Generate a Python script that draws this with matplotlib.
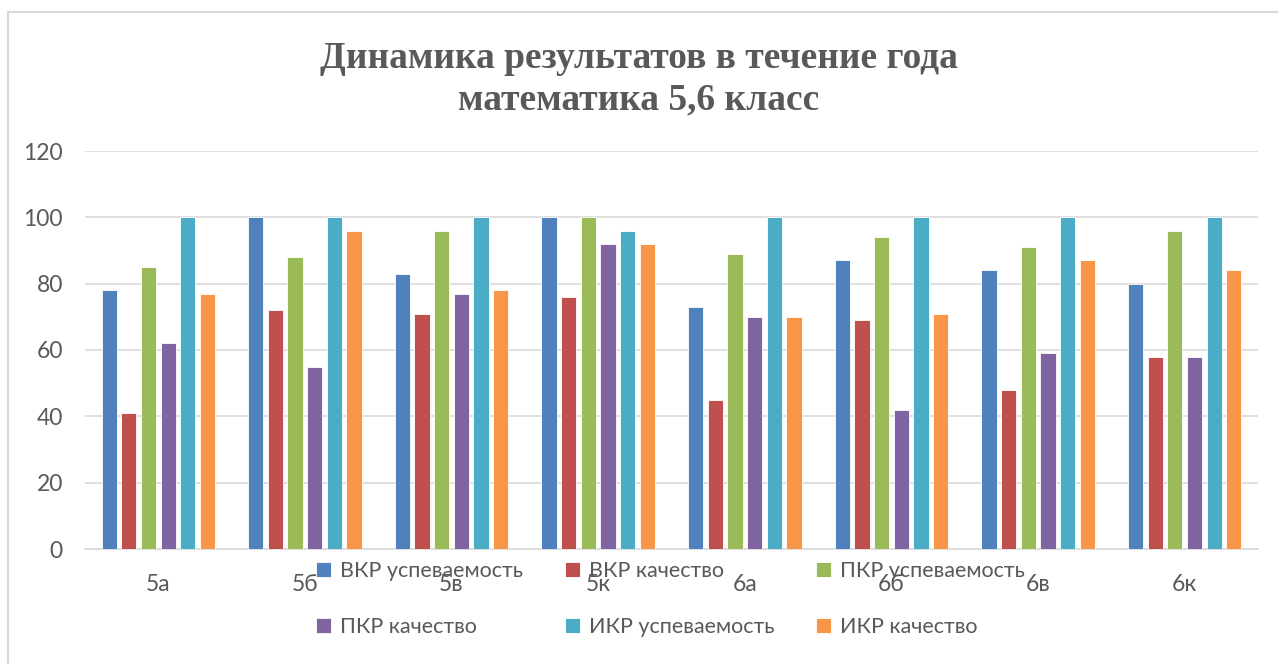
import matplotlib.pyplot as plt
import numpy as np
from matplotlib.patches import Rectangle

classes = ["5а", "5б", "5в", "5к", "6а", "6б", "6в", "6к"]
series_names = ["ВКР успеваемость", "ВКР качество", "ПКР успеваемость",
                "ПКР качество", "ИКР успеваемость", "ИКР качество"]
vkr_usp = [78, 100, 83, 100, 73, 87, 84, 80]
vkr_kach = [41, 72, 71, 76, 45, 69, 48, 58]
pkr_usp = [85, 88, 96, 100, 89, 94, 91, 96]
pkr_kach = [62, 55, 77, 92, 70, 42, 59, 58]
ikr_usp = [100, 100, 100, 96, 100, 100, 100, 100]
ikr_kach = [77, 96, 78, 92, 70, 71, 87, 84]

colors = ["#4F81BD", "#C0504D", "#9BBB59", "#8064A2", "#4BACC6", "#F79646"]
series = [vkr_usp, vkr_kach, pkr_usp, pkr_kach, ikr_usp, ikr_kach]

plt.rcParams['font.family'] = ['Lato', 'DejaVu Sans']

fig = plt.figure(figsize=(12.78, 6.64), dpi=100)
ax = fig.add_axes([85 / 1278, 1 - 549 / 664, (1258 - 85) / 1278, (549 - 151) / 664])

# рамка диаграммы
fig.patches.append(Rectangle((8 / 1278, -0.1), 1.2, 1 - 12 / 664 + 0.1,
                             transform=fig.transFigure, fill=False,
                             edgecolor="#D9D9D9", linewidth=1.5))

x = np.arange(len(classes))
pitch = 0.134
width = 0.104
bars = []
for i, (name, vals) in enumerate(zip(series_names, series)):
    b = ax.bar(x + (i - 2.5) * pitch, vals, width, color=colors[i], label=name,
               edgecolor="white", linewidth=0.6, zorder=3)
    bars.append(b)

ax.set_xlim(-0.5, len(classes) - 0.5)
ax.set_ylim(0, 120)
ax.set_yticks(range(0, 121, 20))
ax.yaxis.grid(True, color="#D9D9D9", linewidth=1.2, zorder=0)
ax.set_xticks(x)
ax.set_xticklabels(classes)
for s in ["left", "right", "top"]:
    ax.spines[s].set_visible(False)
ax.spines["bottom"].set_color("#D9D9D9")
ax.spines["bottom"].set_linewidth(1.2)
ax.tick_params(axis="both", length=0, colors="#595959", labelsize=16.5)
ax.tick_params(axis="y", pad=16)
ax.tick_params(axis="x", pad=18)

fig.text(0.5, 1 - 58 / 664, "Динамика результатов в течение года",
         ha="center", va="center", fontsize=27, fontweight="bold",
         family="Liberation Serif", color="#595959")
fig.text(0.5, 1 - 100 / 664, "математика 5,6 класс",
         ha="center", va="center", fontsize=27, fontweight="bold",
         family="Liberation Serif", color="#595959")

# порядок как в Excel: заполнение по строкам
order = [0, 3, 1, 4, 2, 5]
fig.legend([bars[i] for i in order], [series_names[i] for i in order],
           loc="upper left", bbox_to_anchor=(297 / 1278, 1 - 542 / 664), ncol=3,
           frameon=False, fontsize=15.5, labelcolor="#595959", handlelength=0.7,
           handleheight=0.7, handletextpad=0.4, columnspacing=1.95, labelspacing=1.65)

plt.savefig("out.png", dpi=100)
